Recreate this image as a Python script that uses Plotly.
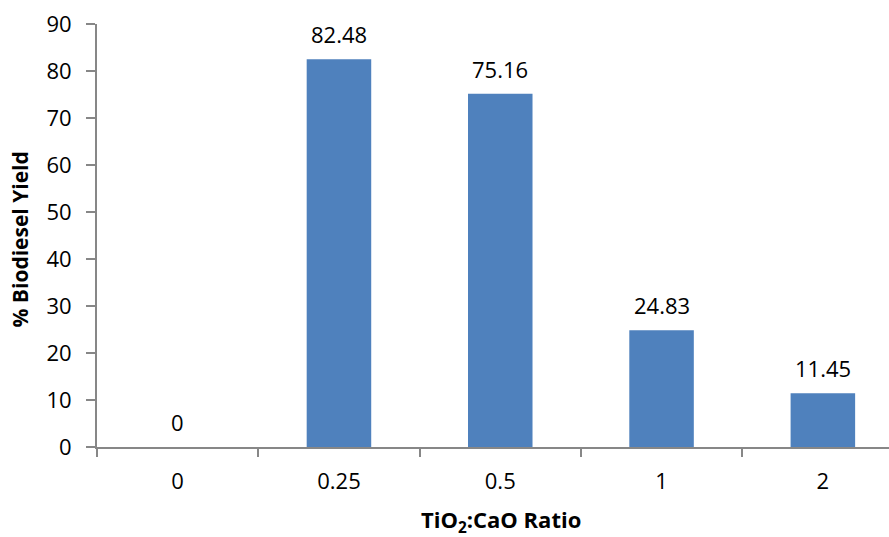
import plotly.graph_objects as go

categories = ["0", "0.25", "0.5", "1", "2"]
yields = [0, 82.48, 75.16, 24.83, 11.45]
label_texts = ["0", "82.48", "75.16", "24.83", "11.45"]
y_ticks = [0, 10, 20, 30, 40, 50, 60, 70, 80, 90]
x_title = "<b>TiO<sub>2</sub>:CaO Ratio</b>"
y_title = "<b>% Biodiesel Yield</b>"

FONT = "Open Sans"
AXIS_COLOR = "#878787"

fig = go.Figure()
fig.add_trace(go.Bar(
    x=categories, y=yields,
    marker=dict(color="#4F81BD", line=dict(width=0)),
    width=0.4, hoverinfo="skip",
))

for i, (v, t) in enumerate(zip(yields, label_texts)):
    fig.add_annotation(x=i, y=v, xref="x", yref="y", text=t, showarrow=False,
                       yanchor="middle", yshift=25,
                       font=dict(family=FONT, size=22, color="#000"))

# axis titles
fig.add_annotation(x=0.51, y=-0.175, xref="paper", yref="paper", text=x_title,
                   showarrow=False, xanchor="center", yanchor="middle",
                   font=dict(family=FONT, size=22, color="#000"))
fig.add_annotation(x=-0.0975, y=0.49, xref="paper", yref="paper", text=y_title,
                   showarrow=False, textangle=-90, xanchor="center", yanchor="middle",
                   font=dict(family=FONT, size=21, color="#000"))

fig.update_layout(
    width=889, height=537,
    margin=dict(l=97, r=0, t=24, b=90, autoexpand=False),
    plot_bgcolor="white", paper_bgcolor="white",
    showlegend=False, hovermode=False,
    font=dict(family=FONT, size=22, color="#000"),
    xaxis=dict(
        type="category", range=[-0.5, 4.41], automargin=False,
        showline=True, linecolor=AXIS_COLOR, linewidth=2,
        ticks="outside", ticklen=8, tickcolor=AXIS_COLOR, tickwidth=2,
        tickson="boundaries", showgrid=False, zeroline=False,
        ticklabelstandoff=14,
        tickfont=dict(family=FONT, size=22, color="#000"),
    ),
    yaxis=dict(
        range=[0, 90], tickvals=y_ticks, automargin=False,
        showline=True, linecolor=AXIS_COLOR, linewidth=2,
        ticks="outside", ticklen=9, tickcolor=AXIS_COLOR, tickwidth=2,
        showgrid=False, zeroline=False,
        ticklabelstandoff=10,
        tickfont=dict(family=FONT, size=22, color="#000"),
    ),
)

fig.write_html("out.html", config={"displayModeBar": False},
               post_script="document.body.style.margin='0';")
